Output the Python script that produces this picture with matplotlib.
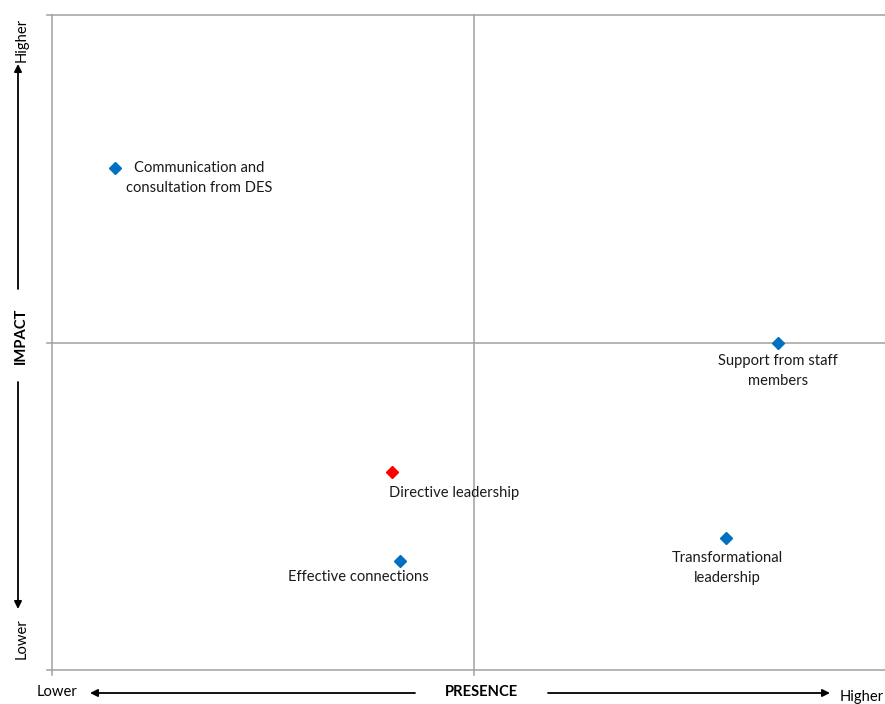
import matplotlib
matplotlib.use("Agg")
import matplotlib.pyplot as plt

plt.rcParams['font.family'] = ['Lato', 'DejaVu Sans']

# Data
labels = ["Communication and\nconsultation from DES", "Support from staff\nmembers",
          "Directive leadership", "Effective connections", "Transformational\nleadership"]
presence = [0.75, 8.6, 4.03, 4.12, 7.99]
impact = [7.66, 5.0, 3.02, 1.66, 2.02]
colors = ["#0070C0", "#0070C0", "#FF0000", "#0070C0", "#0070C0"]
offsets = [(84, -9.5), (0, -28.5), (62, -21), (-41, -16), (1, -30)]

W, H = 885, 704
fig = plt.figure(figsize=(W / 100, H / 100), dpi=100)
ax = fig.add_axes([52 / W, (H - 670) / H, (896 - 52) / W, (670 - 15) / H])
ax.set_xlim(0, 10)
ax.set_ylim(0, 10)
for s in ax.spines.values():
    s.set_visible(False)
ax.set_xticks([])
ax.set_yticks([])

gc = "#A0A0A0"
lw = 1.1
ax.plot([-0.06, 10], [10, 10], color=gc, lw=lw, clip_on=False)
ax.plot([-0.06, 10], [0, 0], color=gc, lw=lw, clip_on=False)
ax.plot([-0.06, 10], [5, 5], color=gc, lw=lw, clip_on=False)
ax.plot([0, 0], [-0.08, 10], color=gc, lw=lw, clip_on=False)
ax.plot([5, 5], [-0.08, 10], color=gc, lw=lw, clip_on=False)

for x, y, c, lab, off in zip(presence, impact, colors, labels, offsets):
    ax.plot(x, y, marker='D', color=c, markersize=6.5, linestyle='none', zorder=5, clip_on=False)
    ax.annotate(lab, (x, y), xytext=off, textcoords='offset pixels', ha='center', va='center',
                multialignment='center', fontsize=10.6, color='#1a1a1a', linespacing=1.55)

def fy(y):
    return H - y

ap = dict(arrowstyle='-|>', color='black', lw=1.3, mutation_scale=11, shrinkA=0, shrinkB=0)
# vertical arrows
fig.add_artist(matplotlib.patches.FancyArrowPatch((18, fy(289)), (18, fy(64)), transform=None, **ap))
fig.add_artist(matplotlib.patches.FancyArrowPatch((18, fy(382)), (18, fy(609)), transform=None, **ap))
# horizontal arrows
fig.add_artist(matplotlib.patches.FancyArrowPatch((415, fy(693)), (90, fy(693)), transform=None, **ap))
fig.add_artist(matplotlib.patches.FancyArrowPatch((548, fy(693)), (830, fy(693)), transform=None, **ap))

tk = dict(transform=None, fontsize=10.6, color='black')
fig.text(22, fy(40), "Higher", rotation=90, ha='center', va='center', **tk)
fig.text(21, fy(336), "IMPACT", rotation=90, ha='center', va='center', fontweight='bold', **tk)
fig.text(22, fy(639), "Lower", rotation=90, ha='center', va='center', **tk)
fig.text(57, fy(692), "Lower", ha='center', va='center', **tk)
fig.text(481, fy(692), "PRESENCE", ha='center', va='center', fontweight='bold', **tk)
fig.text(840, fy(697), "Higher", ha='left', va='center', **tk)

fig.savefig("out.png", dpi=100)
